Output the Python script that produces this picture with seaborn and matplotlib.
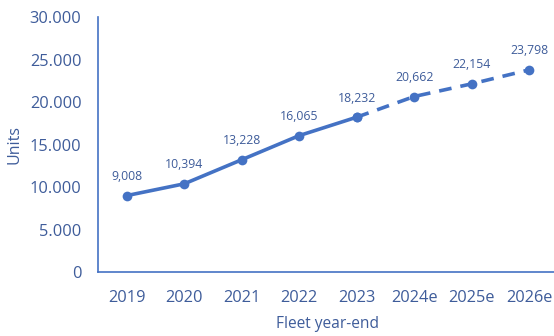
import matplotlib
matplotlib.use("Agg")
import matplotlib.pyplot as plt
import seaborn as sns
import pandas as pd
from matplotlib.ticker import FuncFormatter

years = ["2019", "2020", "2021", "2022", "2023", "2024e", "2025e", "2026e"]
units = [9008, 10394, 13228, 16065, 18232, 20662, 22154, 23798]
n_actual = 5  # 2019-2023 actual, rest estimates

line_color = "#4472C4"
text_color = "#3E5C9A"

sns.set_theme(style="white")
plt.rcParams['font.family'] = ['Open Sans', 'DejaVu Sans']

df = pd.DataFrame({"x": range(len(years)), "year": years, "units": units})
actual = df.iloc[:n_actual]
est = df.iloc[n_actual - 1:]

fig = plt.figure(figsize=(5.54, 3.36), dpi=100)
ax = fig.add_axes([0.177, 0.19, 0.83, 0.759])

sns.lineplot(data=actual, x="x", y="units", ax=ax, color=line_color, lw=2.6,
             marker="o", markersize=7, markeredgewidth=0)
sns.lineplot(data=est, x="x", y="units", ax=ax, color=line_color, lw=2.6,
             marker="o", markersize=7, markeredgewidth=0)
ax.lines[-1].set_dashes([3.5, 2.5])

for xi, v in zip(df["x"], df["units"]):
    ax.annotate(f"{v:,}", (xi, v), xytext=(0, 9), textcoords="offset points",
                ha="center", va="bottom", fontsize=8.8, color=text_color)

ax.set_xlim(-0.5, 7.5)
ax.set_ylim(0, 30000)
ax.set_yticks(range(0, 30001, 5000))
ax.yaxis.set_major_formatter(FuncFormatter(lambda v, p: f"{int(v):,}".replace(",", ".")))
ax.set_xticks(range(len(years)))
ax.set_xticklabels(years)
ax.tick_params(axis="y", length=0, labelsize=11.8, colors=text_color, pad=12)
ax.tick_params(axis="x", length=0, labelsize=11.8, colors=text_color, pad=13)
ax.set_xlabel("Fleet year-end", fontsize=11.2, color=text_color, labelpad=7)
ax.set_ylabel("Units", fontsize=11.5, color=text_color, labelpad=5)

for s in ["top", "right"]:
    ax.spines[s].set_visible(False)
for s in ["left", "bottom"]:
    ax.spines[s].set_color(line_color)
    ax.spines[s].set_linewidth(1.2)

fig.savefig("out.png", dpi=100)
